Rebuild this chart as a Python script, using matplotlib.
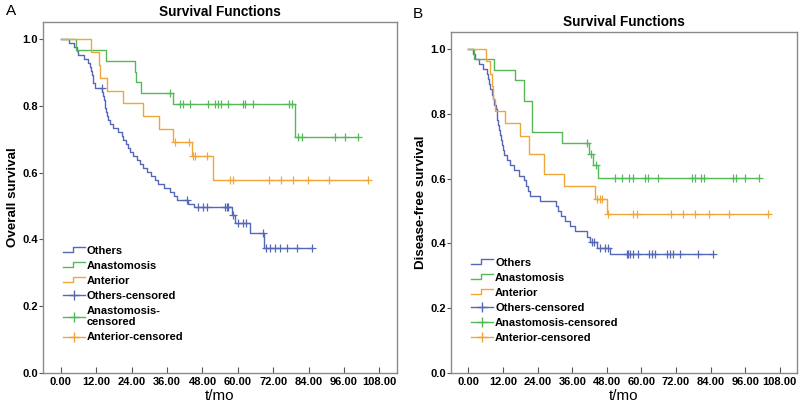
import numpy as np
import matplotlib
matplotlib.use('Agg')
import matplotlib.pyplot as plt
from matplotlib.lines import Line2D
from matplotlib.legend_handler import HandlerBase, HandlerLine2D

plt.rcParams['font.family'] = ['Liberation Sans', 'DejaVu Sans']

# ---- panel A : overall survival (months, survival after each event) ----
a_oth_t = [2.8, 4.5, 5.4, 5.9, 8.0, 9.2, 9.8, 10.2, 10.5, 10.8, 11.0, 11.5, 14.0, 14.3, 14.5,
           14.8, 15.0, 15.3, 15.6, 16.0, 16.6, 17.5, 19.5, 20.6, 21.2, 22.0, 22.8, 23.5, 24.5,
           25.7, 26.8, 28.0, 29.2, 30.5, 31.8, 33.0, 35.0, 37.0, 38.3, 39.5, 43.2, 45.0,
           57.9, 59.0, 64.1, 68.9]
a_oth_s = [0.988, 0.976, 0.964, 0.952, 0.940, 0.928, 0.916, 0.904, 0.892, 0.880, 0.868, 0.855,
           0.843, 0.831, 0.819, 0.807, 0.795, 0.783, 0.771, 0.759, 0.747, 0.735, 0.723, 0.711,
           0.699, 0.687, 0.675, 0.663, 0.651, 0.639, 0.627, 0.615, 0.603, 0.591, 0.579, 0.567,
           0.555, 0.543, 0.531, 0.519, 0.507, 0.496, 0.473, 0.448, 0.418, 0.376]
a_oth_c = [13.8, 42.8, 46.5, 48.2, 49.4, 55.6, 56.2, 56.7, 58.4, 60.1, 61.8, 62.9, 68.4,
           69.7, 70.8, 72.5, 74.2, 76.5, 79.9, 85.0]

a_ana_t = [5.1, 15.3, 25.1, 25.6, 27.1, 37.9, 79.5]
a_ana_s = [0.967, 0.935, 0.903, 0.871, 0.839, 0.806, 0.706]
a_ana_c = [37.0, 40.3, 41.5, 43.7, 49.9, 52.2, 53.3, 54.2, 56.7, 61.6, 62.4, 65.2, 77.4, 78.2,
           80.4, 81.6, 92.9, 96.3, 100.8]

a_ant_t = [10.2, 12.8, 13.2, 15.5, 20.9, 28.0, 33.2, 38.1, 44.3, 51.7]
a_ant_s = [0.962, 0.923, 0.885, 0.846, 0.808, 0.769, 0.731, 0.692, 0.651, 0.578]
a_ant_c = [38.6, 43.6, 44.8, 45.4, 49.4, 57.3, 58.3, 70.6, 74.6, 78.7, 83.8, 91.0, 104.2]

# ---- panel B : disease-free survival ----
b_oth_t = [1.5, 2.2, 3.6, 5.0, 6.3, 6.8, 7.2, 7.5, 8.0, 8.5, 9.0, 9.5, 9.8, 10.0, 10.3, 10.6,
           10.9, 11.2, 11.5, 11.8, 12.2, 13.4, 14.5, 15.7, 17.4, 19.1, 20.0, 20.8, 21.5, 24.9,
           30.4, 31.2, 32.0, 33.6, 35.3, 37.0, 41.1, 42.3, 44.5, 49.0]
b_oth_s = [0.984, 0.969, 0.953, 0.938, 0.922, 0.906, 0.891, 0.875, 0.859, 0.844, 0.828, 0.813,
           0.797, 0.781, 0.766, 0.750, 0.734, 0.719, 0.703, 0.688, 0.672, 0.656, 0.641, 0.625,
           0.609, 0.594, 0.578, 0.563, 0.547, 0.531, 0.516, 0.500, 0.484, 0.469, 0.453, 0.438,
           0.421, 0.405, 0.385, 0.366]
b_oth_c = [42.8, 43.4, 45.7, 47.4, 48.5, 54.9, 55.5, 56.1, 57.2, 58.9, 62.7, 63.6, 64.7, 68.8,
           69.9, 71.1, 73.4, 79.7, 84.7]

b_ana_t = [1.8, 8.8, 16.3, 19.1, 19.2, 22.0, 22.1, 22.2, 32.4, 41.8, 43.2, 45.1]
b_ana_s = [0.968, 0.935, 0.903, 0.871, 0.839, 0.806, 0.774, 0.742, 0.710, 0.676, 0.642, 0.601]
b_ana_c = [41.1, 42.4, 44.3, 50.9, 53.2, 55.8, 57.0, 61.2, 62.4, 65.8, 77.7, 78.5, 80.8, 81.7,
           91.9, 92.7, 95.8, 100.8]

b_ant_t = [5.9, 7.4, 8.0, 8.6, 9.2, 12.8, 18.0, 20.9, 26.1, 33.0, 43.9, 48.0]
b_ant_s = [0.962, 0.923, 0.885, 0.846, 0.808, 0.771, 0.731, 0.677, 0.615, 0.577, 0.538, 0.491]
b_ant_c = [44.5, 45.5, 46.3, 48.5, 57.1, 58.3, 70.4, 74.4, 78.5, 83.4, 90.5, 103.9]

xticks = [0, 12, 24, 36, 48, 60, 72, 84, 96, 108]
yticks = [0.0, 0.2, 0.4, 0.6, 0.8, 1.0]

c_oth = '#5568b8'
c_ana = '#55b95a'
c_ant = '#f0a73a'


class StepHandler(HandlerBase):
    # legend icon drawn as a small step, like the SPSS output
    def create_artists(self, legend, orig_handle, xdescent, ydescent, width, height, fontsize, trans):
        x0, y0 = -xdescent, -ydescent
        xs = [x0, x0 + width * 0.45, x0 + width * 0.45, x0 + width]
        ys = [y0 + height * 0.2, y0 + height * 0.2, y0 + height * 0.85, y0 + height * 0.85]
        ln = Line2D(xs, ys, color=orig_handle.get_color(), lw=1.0, transform=trans)
        return [ln]


def km(ax, t, s, c, color):
    end = max(c + t)
    xs = [0] + t + [end]
    ys = [1.0] + s + [s[-1]]
    ax.step(xs, ys, where='post', color=color, lw=1.0)
    idx = np.searchsorted(np.array(t), np.array(c), side='right')
    cy = np.concatenate([[1.0], s])[idx]
    ax.plot(c, cy, ls='none', marker='+', ms=6, mew=0.9, color=color)


def panel(ax, data, ylabel, title, label_ana, leg_xy):
    for t, s, c, color in data:
        km(ax, t, s, c, color)
    ax.set_xlim(-6.0, 113.9)
    ax.set_ylim(0, 1.052)
    ax.set_xticks(xticks)
    ax.set_xticklabels(['%.2f' % v for v in xticks], fontsize=8, fontweight='bold')
    ax.set_yticks(yticks)
    ax.set_yticklabels(['%.1f' % v for v in yticks], fontsize=8, fontweight='bold')
    ax.tick_params(axis='x', direction='in', length=4, width=0.8, color='#555555', pad=3)
    ax.tick_params(axis='y', direction='out', length=3, width=0.8, color='#555555', pad=1)
    for sp in ax.spines.values():
        sp.set_color('#8a8a8a')
        sp.set_linewidth(1.0)
    ax.set_xlabel('t/mo', fontsize=11, labelpad=1)
    ax.set_ylabel(ylabel, fontsize=9.6, fontweight='bold', labelpad=2)
    ax.set_title(title, fontsize=9.8, fontweight='bold', pad=4)

    handles = [Line2D([], [], color=c_oth), Line2D([], [], color=c_ana), Line2D([], [], color=c_ant),
               Line2D([], [], color=c_oth, marker='+', ms=7, lw=1.0),
               Line2D([], [], color=c_ana, marker='+', ms=7, lw=1.0),
               Line2D([], [], color=c_ant, marker='+', ms=7, lw=1.0)]
    labels = ['Others', 'Anastomosis', 'Anterior', 'Others-censored', label_ana, 'Anterior-censored']
    hmap = {handles[0]: StepHandler(), handles[1]: StepHandler(), handles[2]: StepHandler(),
            handles[3]: HandlerLine2D(numpoints=1), handles[4]: HandlerLine2D(numpoints=1),
            handles[5]: HandlerLine2D(numpoints=1)}
    ax.legend(handles, labels, handler_map=hmap, loc='upper left', bbox_to_anchor=leg_xy,
              frameon=False, prop={'size': 8, 'weight': 'bold'}, handlelength=2.0,
              handletextpad=0.15, labelspacing=0.45, borderpad=0, borderaxespad=0)


fig = plt.figure(figsize=(8, 4.05), dpi=100)
ax1 = fig.add_axes([0.054, 0.079, 0.442, 0.867])
ax2 = fig.add_axes([0.564, 0.079, 0.432, 0.842])

panel(ax1, [(a_oth_t, a_oth_s, a_oth_c, c_oth), (a_ana_t, a_ana_s, a_ana_c, c_ana),
            (a_ant_t, a_ant_s, a_ant_c, c_ant)],
      'Overall survival', 'Survival Functions', 'Anastomosis-\ncensored', (0.056, 0.362))
panel(ax2, [(b_oth_t, b_oth_s, b_oth_c, c_oth), (b_ana_t, b_ana_s, b_ana_c, c_ana),
            (b_ant_t, b_ant_s, b_ant_c, c_ant)],
      'Disease-free survival', 'Survival Functions', 'Anastomosis-censored', (0.058, 0.338))

fig.text(0.008, 0.973, 'A', fontsize=11, va='center', ha='left')
fig.text(0.516, 0.965, 'B', fontsize=11, va='center', ha='left')

fig.savefig('out.png', dpi=100)
